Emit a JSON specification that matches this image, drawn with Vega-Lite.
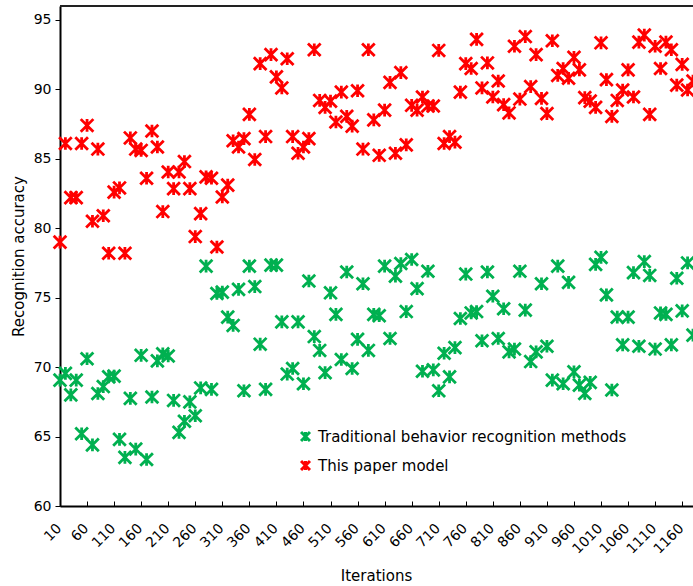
{
  "$schema": "https://vega.github.io/schema/vega-lite/v6.json",
  "width": 633,
  "height": 500,
  "autosize": "none",
  "padding": {"left": 60, "top": 6, "right": 0, "bottom": 80},
  "background": "white",
  "config": {
    "view": {"stroke": null},
    "font": "DejaVu Sans",
    "axis": {"grid": false, "domainColor": "#000", "domainWidth": 2, "tickColor": "#000", "tickWidth": 1, "labelColor": "#000", "titleColor": "#000", "labelFont": "DejaVu Sans", "titleFont": "DejaVu Sans", "titleFontWeight": "normal", "labelOverlap": false}
  },
  "data": {
    "values": [
      {"Iterations":10,"Traditional behavior recognition methods":69.06,"This paper model":79.0},
      {"Iterations":20,"Traditional behavior recognition methods":69.55,"This paper model":86.1},
      {"Iterations":30,"Traditional behavior recognition methods":68.0,"This paper model":82.2},
      {"Iterations":40,"Traditional behavior recognition methods":69.06,"This paper model":82.2},
      {"Iterations":50,"Traditional behavior recognition methods":65.2,"This paper model":86.1},
      {"Iterations":60,"Traditional behavior recognition methods":70.6,"This paper model":87.4},
      {"Iterations":70,"Traditional behavior recognition methods":64.4,"This paper model":80.5},
      {"Iterations":80,"Traditional behavior recognition methods":68.1,"This paper model":85.7},
      {"Iterations":90,"Traditional behavior recognition methods":68.6,"This paper model":80.9},
      {"Iterations":100,"Traditional behavior recognition methods":69.3,"This paper model":78.2},
      {"Iterations":110,"Traditional behavior recognition methods":69.35,"This paper model":82.6},
      {"Iterations":120,"Traditional behavior recognition methods":64.8,"This paper model":82.9},
      {"Iterations":130,"Traditional behavior recognition methods":63.5,"This paper model":78.2},
      {"Iterations":140,"Traditional behavior recognition methods":67.75,"This paper model":86.5},
      {"Iterations":150,"Traditional behavior recognition methods":64.1,"This paper model":85.7},
      {"Iterations":160,"Traditional behavior recognition methods":70.85,"This paper model":85.6},
      {"Iterations":170,"Traditional behavior recognition methods":63.35,"This paper model":83.6},
      {"Iterations":180,"Traditional behavior recognition methods":67.85,"This paper model":87.0},
      {"Iterations":190,"Traditional behavior recognition methods":70.45,"This paper model":85.85},
      {"Iterations":200,"Traditional behavior recognition methods":70.95,"This paper model":81.2},
      {"Iterations":210,"Traditional behavior recognition methods":70.8,"This paper model":84.05},
      {"Iterations":220,"Traditional behavior recognition methods":67.6,"This paper model":82.85},
      {"Iterations":230,"Traditional behavior recognition methods":65.3,"This paper model":84.05},
      {"Iterations":240,"Traditional behavior recognition methods":66.1,"This paper model":84.8},
      {"Iterations":250,"Traditional behavior recognition methods":67.5,"This paper model":82.85},
      {"Iterations":260,"Traditional behavior recognition methods":66.5,"This paper model":79.4},
      {"Iterations":270,"Traditional behavior recognition methods":68.5,"This paper model":81.05},
      {"Iterations":280,"Traditional behavior recognition methods":77.27,"This paper model":83.7},
      {"Iterations":290,"Traditional behavior recognition methods":68.4,"This paper model":83.6},
      {"Iterations":300,"Traditional behavior recognition methods":75.3,"This paper model":78.65},
      {"Iterations":310,"Traditional behavior recognition methods":75.4,"This paper model":82.25},
      {"Iterations":320,"Traditional behavior recognition methods":73.6,"This paper model":83.1},
      {"Iterations":330,"Traditional behavior recognition methods":73.0,"This paper model":86.3},
      {"Iterations":340,"Traditional behavior recognition methods":75.6,"This paper model":85.85},
      {"Iterations":350,"Traditional behavior recognition methods":68.3,"This paper model":86.45},
      {"Iterations":360,"Traditional behavior recognition methods":77.27,"This paper model":88.2},
      {"Iterations":370,"Traditional behavior recognition methods":75.8,"This paper model":84.95},
      {"Iterations":380,"Traditional behavior recognition methods":71.65,"This paper model":91.85},
      {"Iterations":390,"Traditional behavior recognition methods":68.4,"This paper model":86.6},
      {"Iterations":400,"Traditional behavior recognition methods":77.34,"This paper model":92.5},
      {"Iterations":410,"Traditional behavior recognition methods":77.34,"This paper model":90.9},
      {"Iterations":420,"Traditional behavior recognition methods":73.26,"This paper model":90.1},
      {"Iterations":430,"Traditional behavior recognition methods":69.5,"This paper model":92.2},
      {"Iterations":440,"Traditional behavior recognition methods":69.9,"This paper model":86.6},
      {"Iterations":450,"Traditional behavior recognition methods":73.26,"This paper model":85.4},
      {"Iterations":460,"Traditional behavior recognition methods":68.8,"This paper model":85.85},
      {"Iterations":470,"Traditional behavior recognition methods":76.2,"This paper model":86.45},
      {"Iterations":480,"Traditional behavior recognition methods":72.2,"This paper model":92.85},
      {"Iterations":490,"Traditional behavior recognition methods":71.2,"This paper model":89.2},
      {"Iterations":500,"Traditional behavior recognition methods":69.6,"This paper model":88.7},
      {"Iterations":510,"Traditional behavior recognition methods":75.35,"This paper model":89.15},
      {"Iterations":520,"Traditional behavior recognition methods":73.8,"This paper model":87.65},
      {"Iterations":530,"Traditional behavior recognition methods":70.55,"This paper model":89.8},
      {"Iterations":540,"Traditional behavior recognition methods":76.85,"This paper model":88.05},
      {"Iterations":550,"Traditional behavior recognition methods":69.9,"This paper model":87.35},
      {"Iterations":560,"Traditional behavior recognition methods":72.0,"This paper model":89.9},
      {"Iterations":570,"Traditional behavior recognition methods":76.0,"This paper model":85.7},
      {"Iterations":580,"Traditional behavior recognition methods":71.2,"This paper model":92.85},
      {"Iterations":590,"Traditional behavior recognition methods":73.8,"This paper model":87.8},
      {"Iterations":600,"Traditional behavior recognition methods":73.7,"This paper model":85.25},
      {"Iterations":610,"Traditional behavior recognition methods":77.27,"This paper model":88.5},
      {"Iterations":620,"Traditional behavior recognition methods":72.06,"This paper model":90.5},
      {"Iterations":630,"Traditional behavior recognition methods":76.55,"This paper model":85.4},
      {"Iterations":640,"Traditional behavior recognition methods":77.46,"This paper model":91.2},
      {"Iterations":650,"Traditional behavior recognition methods":74.0,"This paper model":86.0},
      {"Iterations":660,"Traditional behavior recognition methods":77.75,"This paper model":88.85},
      {"Iterations":670,"Traditional behavior recognition methods":75.65,"This paper model":88.5},
      {"Iterations":680,"Traditional behavior recognition methods":69.7,"This paper model":89.45},
      {"Iterations":690,"Traditional behavior recognition methods":76.9,"This paper model":88.8},
      {"Iterations":700,"Traditional behavior recognition methods":69.8,"This paper model":88.8},
      {"Iterations":710,"Traditional behavior recognition methods":68.3,"This paper model":92.8},
      {"Iterations":720,"Traditional behavior recognition methods":71.0,"This paper model":86.1},
      {"Iterations":730,"Traditional behavior recognition methods":69.3,"This paper model":86.6},
      {"Iterations":740,"Traditional behavior recognition methods":71.4,"This paper model":86.2},
      {"Iterations":750,"Traditional behavior recognition methods":73.5,"This paper model":89.8},
      {"Iterations":760,"Traditional behavior recognition methods":76.7,"This paper model":91.85},
      {"Iterations":770,"Traditional behavior recognition methods":73.9,"This paper model":91.5},
      {"Iterations":780,"Traditional behavior recognition methods":74.0,"This paper model":93.6},
      {"Iterations":790,"Traditional behavior recognition methods":71.9,"This paper model":90.1},
      {"Iterations":800,"Traditional behavior recognition methods":76.85,"This paper model":91.9},
      {"Iterations":810,"Traditional behavior recognition methods":75.1,"This paper model":89.45},
      {"Iterations":820,"Traditional behavior recognition methods":72.06,"This paper model":90.6},
      {"Iterations":830,"Traditional behavior recognition methods":74.2,"This paper model":88.9},
      {"Iterations":840,"Traditional behavior recognition methods":71.1,"This paper model":88.3},
      {"Iterations":850,"Traditional behavior recognition methods":71.3,"This paper model":93.1},
      {"Iterations":860,"Traditional behavior recognition methods":76.9,"This paper model":89.3},
      {"Iterations":870,"Traditional behavior recognition methods":74.1,"This paper model":93.8},
      {"Iterations":880,"Traditional behavior recognition methods":70.4,"This paper model":90.2},
      {"Iterations":890,"Traditional behavior recognition methods":71.1,"This paper model":92.5},
      {"Iterations":900,"Traditional behavior recognition methods":76.0,"This paper model":89.35},
      {"Iterations":910,"Traditional behavior recognition methods":71.5,"This paper model":88.25},
      {"Iterations":920,"Traditional behavior recognition methods":69.06,"This paper model":93.5},
      {"Iterations":930,"Traditional behavior recognition methods":77.27,"This paper model":91.0},
      {"Iterations":940,"Traditional behavior recognition methods":68.8,"This paper model":91.5},
      {"Iterations":950,"Traditional behavior recognition methods":76.1,"This paper model":90.8},
      {"Iterations":960,"Traditional behavior recognition methods":69.66,"This paper model":92.3},
      {"Iterations":970,"Traditional behavior recognition methods":68.7,"This paper model":91.4},
      {"Iterations":980,"Traditional behavior recognition methods":68.1,"This paper model":89.4},
      {"Iterations":990,"Traditional behavior recognition methods":68.9,"This paper model":89.15},
      {"Iterations":1000,"Traditional behavior recognition methods":77.4,"This paper model":88.7},
      {"Iterations":1010,"Traditional behavior recognition methods":77.9,"This paper model":93.35},
      {"Iterations":1020,"Traditional behavior recognition methods":75.2,"This paper model":90.7},
      {"Iterations":1030,"Traditional behavior recognition methods":68.35,"This paper model":88.05},
      {"Iterations":1040,"Traditional behavior recognition methods":73.6,"This paper model":89.2},
      {"Iterations":1050,"Traditional behavior recognition methods":71.6,"This paper model":89.95},
      {"Iterations":1060,"Traditional behavior recognition methods":73.6,"This paper model":91.4},
      {"Iterations":1070,"Traditional behavior recognition methods":76.8,"This paper model":89.45},
      {"Iterations":1080,"Traditional behavior recognition methods":71.5,"This paper model":93.4},
      {"Iterations":1090,"Traditional behavior recognition methods":77.6,"This paper model":93.9},
      {"Iterations":1100,"Traditional behavior recognition methods":76.6,"This paper model":88.2},
      {"Iterations":1110,"Traditional behavior recognition methods":71.3,"This paper model":93.1},
      {"Iterations":1120,"Traditional behavior recognition methods":73.9,"This paper model":91.5},
      {"Iterations":1130,"Traditional behavior recognition methods":73.8,"This paper model":93.4},
      {"Iterations":1140,"Traditional behavior recognition methods":71.6,"This paper model":92.85},
      {"Iterations":1150,"Traditional behavior recognition methods":76.4,"This paper model":90.3},
      {"Iterations":1160,"Traditional behavior recognition methods":74.05,"This paper model":91.8},
      {"Iterations":1170,"Traditional behavior recognition methods":77.5,"This paper model":89.95},
      {"Iterations":1180,"Traditional behavior recognition methods":72.3,"This paper model":90.6}
    ]
  },
  "layer": [
    {
      "data": {"values": [{"top": 96}]},
      "mark": {"type": "rule", "color": "#222", "strokeWidth": 2},
      "encoding": {"y": {"field": "top", "type": "quantitative"}}
    },
    {
      "transform": [
        {"fold": ["Traditional behavior recognition methods", "This paper model"], "as": ["series", "accuracy"]}
      ],
      "mark": {"type": "point", "shape": "M-1,-1L1,1M-1,1L1,-1M0,-1L0,1", "filled": false, "strokeWidth": 2.8, "size": 160, "opacity": 1},
      "encoding": {
        "x": {
          "field": "Iterations", "type": "quantitative",
          "scale": {"domain": [10, 1180], "nice": false, "zero": false},
          "axis": {"title": "Iterations", "format": "d", "values": [10,60,110,160,210,260,310,360,410,460,510,560,610,660,710,760,810,860,910,960,1010,1060,1110,1160], "labelAngle": -45, "labelFontSize": 14, "tickSize": -5, "labelPadding": 20, "labelOffset": -6, "titleFontSize": 15, "titleX": 316, "titleY": 69, "titleBaseline": "middle", "labelOverlap": false}
        },
        "y": {
          "field": "accuracy", "type": "quantitative",
          "scale": {"domain": [60, 96], "nice": false, "zero": false},
          "axis": {"title": "Recognition accuracy", "values": [60,65,70,75,80,85,90,95], "labelFontSize": 14, "tickSize": 5, "labelPadding": 4, "titleFontSize": 15, "titleX": -42, "titleY": 250, "titleAngle": -90, "titleBaseline": "middle", "titleAlign": "center"}
        },
        "color": {
          "field": "series", "type": "nominal",
          "scale": {"domain": ["Traditional behavior recognition methods", "This paper model"], "range": ["#00B050", "#FF0000"]},
          "legend": {"title": null, "orient": "none", "legendX": 238, "legendY": 423, "padding": 0, "labelFontSize": 15, "labelLimit": 0, "labelColor": "#000", "labelFont": "DejaVu Sans", "symbolType": "M-1,-1L1,1M-1,1L1,-1M0,-1L0,1", "symbolStrokeWidth": 3, "symbolSize": 80, "rowPadding": 8, "labelOffset": 5}
        }
      }
    }
  ]
}
